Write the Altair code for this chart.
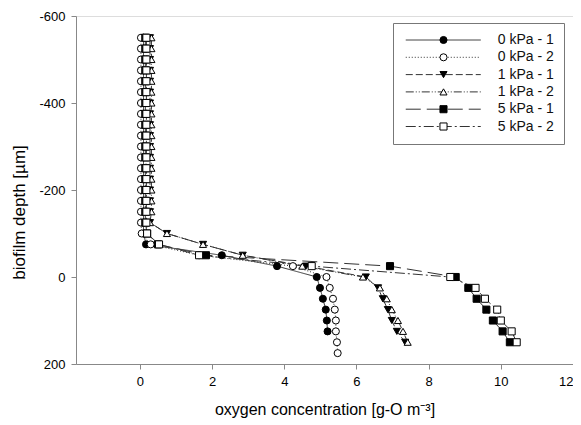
import altair as alt
import pandas as pd

SERIES = ["0 kPa - 1", "0 kPa - 2", "1 kPa - 1", "1 kPa - 2", "5 kPa - 1", "5 kPa - 2"]

DEPTHS = [-550, -525, -500, -475, -450, -425, -400, -375, -350, -325, -300, -275,
          -250, -225, -200, -175, -150, -125, -100, -75, -50, -25, 0, 25, 50, 75,
          100, 125, 150, 175]

C_0KPA_1 = [0.10, 0.10, 0.10, 0.10, 0.10, 0.10, 0.10, 0.10, 0.10, 0.10, 0.10, 0.10,
            0.10, 0.10, 0.10, 0.10, 0.10, 0.10, 0.10, 0.17, 2.27, 3.80, 4.90, 4.99,
            5.07, 5.15, 5.18, 5.20]
C_0KPA_2 = [0.03, 0.03, 0.03, 0.03, 0.03, 0.03, 0.03, 0.03, 0.03, 0.03, 0.03, 0.03,
            0.03, 0.03, 0.03, 0.03, 0.03, 0.03, 0.05, 0.30, 1.64, 4.24, 5.17, 5.26,
            5.35, 5.40, 5.43, 5.43, 5.46, 5.48]
C_1KPA_1 = [0.28, 0.28, 0.28, 0.28, 0.28, 0.28, 0.28, 0.28, 0.28, 0.28, 0.28, 0.28,
            0.28, 0.28, 0.28, 0.28, 0.28, 0.28, 0.75, 1.75, 2.85, 4.60, 6.26, 6.60,
            6.73, 6.87, 6.98, 7.12, 7.35]
C_1KPA_2 = [0.32, 0.32, 0.32, 0.32, 0.32, 0.32, 0.32, 0.32, 0.32, 0.32, 0.32, 0.32,
            0.32, 0.32, 0.32, 0.32, 0.32, 0.28, 0.75, 1.75, 2.85, 4.50, 6.18, 6.65,
            6.84, 6.98, 7.15, 7.29, 7.42]
C_5KPA_1 = [0.15, 0.15, 0.15, 0.15, 0.15, 0.15, 0.15, 0.15, 0.15, 0.15, 0.15, 0.15,
            0.15, 0.15, 0.15, 0.15, 0.15, 0.15, 0.20, 0.50, 1.83, 6.93, 8.75, 9.10,
            9.33, 9.60, 9.78, 10.05, 10.25]
C_5KPA_2 = [0.18, 0.18, 0.18, 0.18, 0.18, 0.18, 0.18, 0.18, 0.18, 0.18, 0.18, 0.18,
            0.18, 0.18, 0.18, 0.18, 0.18, 0.18, 0.20, 0.53, 1.64, 4.76, 8.60, 9.30,
            9.56, 9.90, 10.00, 10.30, 10.44]

CONCS = [C_0KPA_1, C_0KPA_2, C_1KPA_1, C_1KPA_2, C_5KPA_1, C_5KPA_2]

SHAPES = ["circle", "circle", "triangle-down", "triangle-up", "square", "square"]
FILLS = ["black", "white", "black", "white", "black", "white"]
DASHES = [[1, 0], [1, 2], [7, 3], [8, 2, 1, 2, 1, 2], [15, 6], [10, 3, 2, 3]]

X_TICKS = [0, 2, 4, 6, 8, 10, 12]
Y_TICKS = [-600, -400, -200, 0, 200]

# marker legend keys differ (trailing space) so Vega-Lite keeps the two legends apart
MARKER_KEYS = [s + " " for s in SERIES]

rows = []
for name, key, conc in zip(SERIES, MARKER_KEYS, CONCS):
    for d, c in zip(DEPTHS, conc):
        rows.append({"series": name, "series_pt": key, "depth": d, "conc": c})
df = pd.DataFrame(rows)

FONT = "Liberation Sans"

x_enc = alt.X("conc:Q",
              scale=alt.Scale(domain=[-1.77, 12], nice=False, zero=False),
              axis=alt.Axis(values=X_TICKS, title="oxygen concentration [g-O m\u207b\u00b3]",
                            grid=False, tickSize=5, labelPadding=6, titlePadding=13,
                            labelFontSize=13, titleFontSize=16, titleFontWeight="normal",
                            labelExpr="datum.value"))
y_enc = alt.Y("depth:Q",
              scale=alt.Scale(domain=[-600, 200], reverse=True, nice=False, zero=False),
              axis=alt.Axis(values=Y_TICKS, title="biofilm depth [\u00b5m]",
                            grid=False, tickSize=5, labelPadding=6, titlePadding=10,
                            labelFontSize=13, titleFontSize=17, titleFontWeight="normal",
                            titleY=196, labelExpr="datum.value"))

LEG_X, LEG_Y = 317, 7
line_legend = alt.Legend(orient="none", legendX=LEG_X, legendY=LEG_Y, title=None,
                         symbolType="M-10,0H10", symbolSize=56.25, symbolStrokeWidth=1,
                         symbolStrokeColor="#333", symbolOffset=33.25,
                         labelFontSize=14, labelOffset=47.5, labelLimit=200,
                         rowPadding=3.3, padding=10, strokeColor="#777",
                         labelFont=FONT, labelColor="#111")
pt_legend = alt.Legend(orient="none", legendX=LEG_X, legendY=LEG_Y, title=None,
                       symbolSize=50, symbolStrokeWidth=1, symbolOffset=33.5,
                       labelFontSize=14, labelOffset=47.5, rowPadding=3.3, padding=10,
                       labelOpacity=0, labelFont=FONT)

lines = alt.Chart(df).mark_line(strokeWidth=1, color="#333").encode(
    x=x_enc, y=y_enc,
    strokeDash=alt.StrokeDash("series:N", scale=alt.Scale(domain=SERIES, range=DASHES),
                              legend=line_legend),
    order=alt.Order("depth:Q"),
)

points = alt.Chart(df).mark_point(filled=True, size=50, strokeWidth=1,
                                  opacity=1).encode(
    x=x_enc, y=y_enc,
    shape=alt.Shape("series_pt:N", scale=alt.Scale(domain=MARKER_KEYS, range=SHAPES),
                    legend=pt_legend),
    fill=alt.Fill("series_pt:N", scale=alt.Scale(domain=MARKER_KEYS, range=FILLS),
                  legend=pt_legend),
    stroke=alt.Stroke("series_pt:N",
                      scale=alt.Scale(domain=MARKER_KEYS, range=["black"] * 6),
                      legend=pt_legend),
)

chart = alt.layer(lines, points).properties(
    width=497, height=348,
    autosize=alt.AutoSizeParams(type="none"),
    padding={"left": 68, "top": 8, "right": 0, "bottom": 55},
).configure_view(stroke="#555", strokeWidth=1).configure_axis(
    domainColor="#555", tickColor="#555", labelColor="#111", titleColor="#111",
    labelFont=FONT, titleFont=FONT,
).configure(background="white")

chart.save("out.html", embed_options={"renderer": "svg", "actions": False})
